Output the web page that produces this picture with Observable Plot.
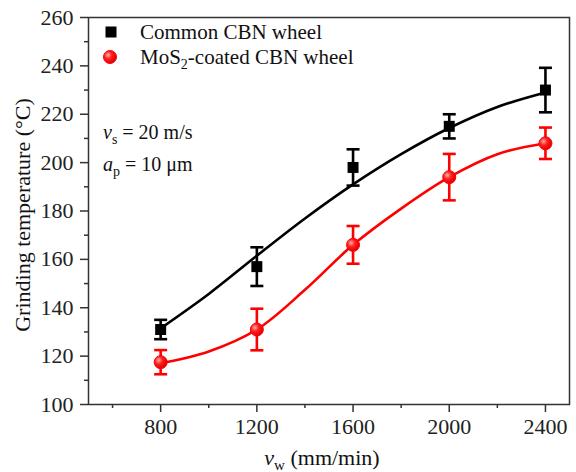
<!DOCTYPE html>
<html>
<head>
<meta charset="utf-8">
<script src="https://cdn.jsdelivr.net/npm/d3@7"></script>
<script src="https://cdn.jsdelivr.net/npm/@observablehq/plot@0.6"></script>
<style>
  html, body { margin: 0; padding: 0; background: #fff; }
  svg { display: block; }
</style>
</head>
<body>
<div id="chart"></div>
<script>
// ---- data ----
const speeds = [800, 1200, 1600, 2000, 2400];
const commonTemp = [131, 157, 198, 215, 230];
const commonErr = [4, 8, 7.5, 5, 9.2];
const coatedTemp = [117.5, 131, 166, 194, 208];
const coatedErr = [5, 8.6, 7.8, 9.6, 6.5];

// fitted curves
const curveX = [800, 1000, 1200, 1400, 1600, 1800, 2000, 2200, 2400];
const commonFit = [131.5, 145.7, 161.5, 176.9, 191, 203.5, 214.3, 223, 229];
const coatedFit = [117, 121.9, 131, 147.4, 166, 181, 194, 203.5, 208];

const xMajor = [800, 1200, 1600, 2000, 2400];
const xMinor = [600, 1000, 1400, 1800, 2200];
const yMajor = [100, 120, 140, 160, 180, 200, 220, 240, 260];
const yMinor = [110, 130, 150, 170, 190, 210, 230, 250];

const seriesNames = ["Common CBN wheel", "MoS2-coated CBN wheel"];

const pts = [];
speeds.forEach((s, i) => {
  pts.push({series: "common", x: s, y: commonTemp[i], lo: commonTemp[i] - commonErr[i], hi: commonTemp[i] + commonErr[i]});
  pts.push({series: "coated", x: s, y: coatedTemp[i], lo: coatedTemp[i] - coatedErr[i], hi: coatedTemp[i] + coatedErr[i]});
});
const fit = [];
curveX.forEach((s, i) => {
  fit.push({series: "common", x: s, y: commonFit[i]});
  fit.push({series: "coated", x: s, y: coatedFit[i]});
});
const colorOf = s => s === "common" ? "#000000" : "#ff0000";

// horizontal cap symbol
const capSymbol = {
  draw(ctx, size) {
    const r = Math.sqrt(size / Math.PI);
    ctx.moveTo(-r, 0);
    ctx.lineTo(r, 0);
  }
};

const font = "Liberation Serif, Times New Roman, serif";
const axisStroke = "#333";

const plot = Plot.plot({
  width: 576,
  height: 472,
  marginLeft: 88,
  marginRight: 7,
  marginTop: 17,
  marginBottom: 68,
  style: {fontFamily: font, background: "#fff", color: "#222"},
  x: {domain: [500, 2500], axis: null},
  y: {domain: [100, 260], axis: null},
  marks: [
    Plot.axisX(xMajor, {tickSize: 8, tickPadding: 6, fontSize: 22, stroke: axisStroke, strokeWidth: 1.5, label: null, tickFormat: d => String(d), fill: "#222"}),
    Plot.axisX(xMinor, {tickSize: 4, tickFormat: () => "", stroke: axisStroke, strokeWidth: 1.5, label: null}),
    Plot.axisY(yMajor, {tickSize: 8, tickPadding: 7, fontSize: 22, stroke: axisStroke, strokeWidth: 1.5, label: null, tickFormat: d => String(d), fill: "#222"}),
    Plot.axisY(yMinor, {tickSize: 4, tickFormat: () => "", stroke: axisStroke, strokeWidth: 1.5, label: null}),
    Plot.line(fit.filter(d => d.series === "common"), {x: "x", y: "y", stroke: "#000", strokeWidth: 2.6, curve: "catmull-rom"}),
    Plot.line(fit.filter(d => d.series === "coated"), {x: "x", y: "y", stroke: "#ff0000", strokeWidth: 2.6, curve: "catmull-rom"}),
    Plot.ruleX(pts, {x: "x", y1: "lo", y2: "hi", stroke: d => colorOf(d.series), strokeWidth: 2.6}),
    Plot.dot(pts, {x: "x", y: "lo", symbol: capSymbol, r: 6.5, stroke: d => colorOf(d.series), strokeWidth: 2.6, fill: "none"}),
    Plot.dot(pts, {x: "x", y: "hi", symbol: capSymbol, r: 6.5, stroke: d => colorOf(d.series), strokeWidth: 2.6, fill: "none"}),
    Plot.dot(pts.filter(d => d.series === "common"), {x: "x", y: "y", symbol: "square", r: 6.2, fill: "#000", stroke: "none"}),
    Plot.dot(pts.filter(d => d.series === "coated"), {x: "x", y: "y", symbol: "circle", r: 6.5, fill: "url(#redball)", stroke: "#ff0000", strokeWidth: 1}),
    Plot.frame({stroke: axisStroke, strokeWidth: 1.5})
  ]
});

const svg = d3.select(plot);
// gradient for red balls
const defs = svg.insert("defs", ":first-child");
const g = defs.append("radialGradient").attr("id", "redball").attr("cx", "35%").attr("cy", "35%").attr("r", "65%");
g.append("stop").attr("offset", "0%").attr("stop-color", "#ffb0b0");
g.append("stop").attr("offset", "45%").attr("stop-color", "#ff2020");
g.append("stop").attr("offset", "100%").attr("stop-color", "#e00000");

// legend
const leg = svg.append("g").attr("font-family", font).attr("font-size", 21).attr("fill", "#111").attr("text-anchor", "start");
leg.append("rect").attr("x", 105.5).attr("y", 26.5).attr("width", 11).attr("height", 11).attr("fill", "#000");
leg.append("text").attr("x", 140).attr("y", 39).text(seriesNames[0]);
leg.append("circle").attr("cx", 110).attr("cy", 57).attr("r", 6.5).attr("fill", "url(#redball)").attr("stroke", "#ff0000");
const t2 = leg.append("text").attr("x", 140).attr("y", 64);
t2.append("tspan").text("MoS");
t2.append("tspan").attr("font-size", 14).attr("dy", 5).text("2");
t2.append("tspan").attr("dy", -5).text("-coated CBN wheel");

// annotations
const ann = svg.append("g").attr("font-family", font).attr("font-size", 20).attr("fill", "#111").attr("text-anchor", "start");
const a1 = ann.append("text").attr("x", 103).attr("y", 139);
a1.append("tspan").attr("font-style", "italic").text("v");
a1.append("tspan").attr("font-size", 14).attr("dy", 5).text("s");
a1.append("tspan").attr("dy", -5).text(" = 20 m/s");
const a2 = ann.append("text").attr("x", 103).attr("y", 171);
a2.append("tspan").attr("font-style", "italic").text("a");
a2.append("tspan").attr("font-size", 14).attr("dy", 5).text("p");
a2.append("tspan").attr("dy", -5).text(" = 10 \u03BCm");

// axis titles
const xl = svg.append("text").attr("font-family", font).attr("font-size", 22).attr("fill", "#111")
  .attr("x", 322).attr("y", 465).attr("text-anchor", "middle");
xl.append("tspan").attr("font-style", "italic").text("v");
xl.append("tspan").attr("font-size", 15).attr("dy", 5).text("w");
xl.append("tspan").attr("dy", -5).text(" (mm/min)");

svg.append("text").attr("font-family", font).attr("font-size", 22).attr("fill", "#111")
  .attr("transform", "translate(30,215) rotate(-90)").attr("text-anchor", "middle")
  .text("Grinding temperature (\u00B0C)");

document.getElementById("chart").appendChild(plot);
</script>
</body>
</html>
